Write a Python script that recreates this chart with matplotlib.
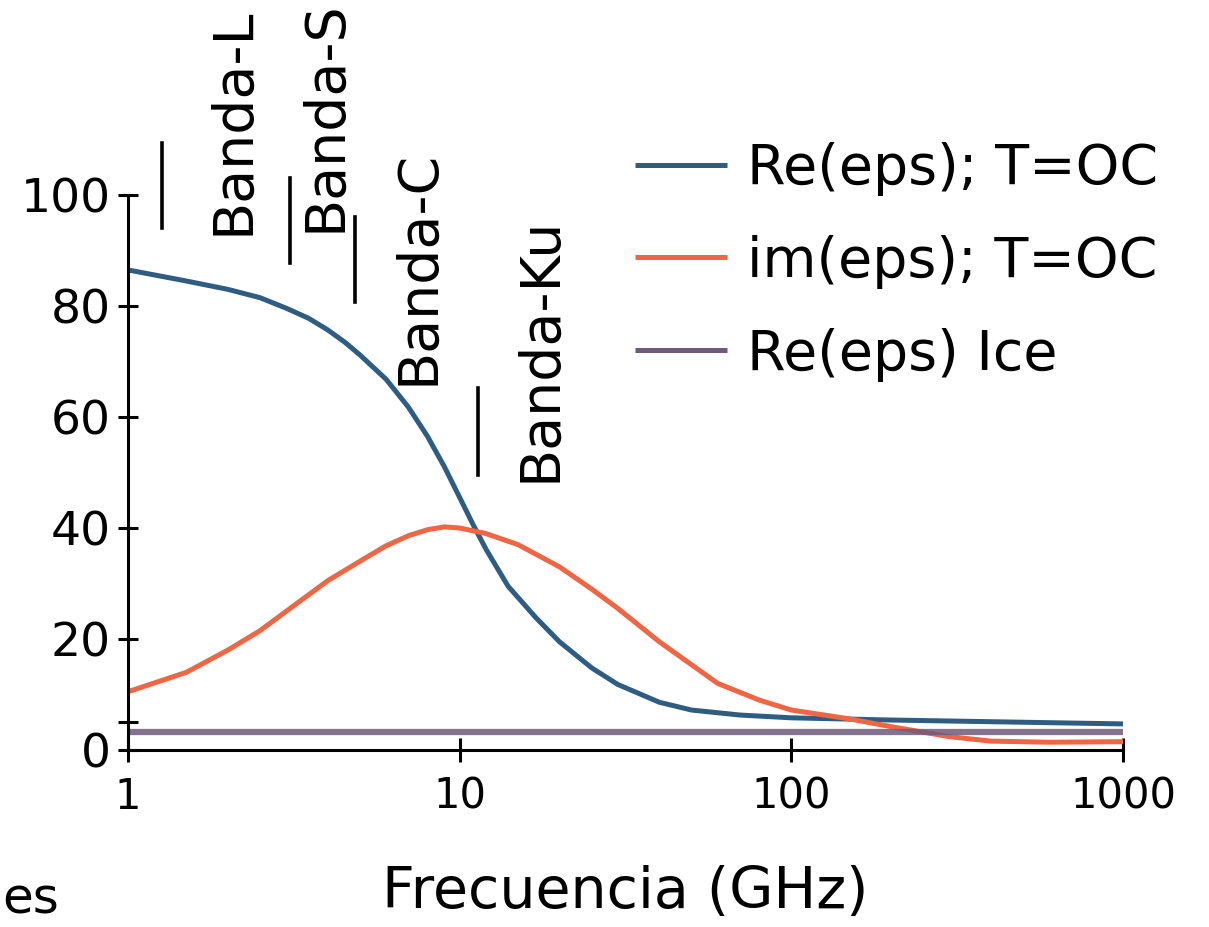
import matplotlib
matplotlib.use("Agg")
import numpy as np
import matplotlib.pyplot as plt

# frequency (GHz) and permittivity values
freq_re = [1, 1.5, 2, 2.5, 3, 3.5, 4, 4.5, 5, 6, 7, 8, 9, 10, 11, 12, 14, 17, 20, 25, 30, 40, 50, 70, 100, 200, 500, 1000]
re_water = [86.5, 84.5, 83, 81.5, 79.6, 77.8, 75.7, 73.5, 71.2, 66.8, 61.8, 56.5, 51, 45.5, 40.5, 36.2, 29.5, 23.8, 19.5, 14.8, 11.8, 8.6, 7.2, 6.3, 5.8, 5.4, 5.0, 4.7]

freq_im = [1, 1.5, 2, 2.5, 3, 4, 5, 6, 7, 8, 9, 10, 12, 15, 20, 25, 30, 40, 60, 80, 100, 150, 200, 300, 400, 600, 1000]
im_water = [10.5, 14, 18, 21.5, 25, 30.5, 34, 36.8, 38.6, 39.7, 40.2, 40, 39, 37, 33, 29, 25.5, 19.5, 12, 9, 7.2, 5.6, 4.2, 2.4, 1.6, 1.4, 1.5]

freq_ice = [1, 1000]
re_ice = [3.2, 3.2]

series_labels = ["Re(eps); T=OC", "im(eps); T=OC", "Re(eps) Ice"]
series_colors = ["#2f5d82", "#ee6644", "#6f5a7a"]

bands = ["Banda-L", "Banda-S", "Banda-C", "Banda-Ku"]
band_freq = [1.27, 3.08, 4.84, 11.36]
band_y0 = [94, 87.7, 80.7, 49.5]
band_y1 = [109.4, 103, 96, 65.2]
band_text_x = [2.07, 3.93, 7.49, 17.46]
band_text_y = [92.8, 93.3, 65.8, 48.3]

yticks = [0, 5, 20, 40, 60, 80, 100]
ytick_labels = ["0", "", "20", "40", "60", "80", "100"]
xticks = [1, 10, 100, 1000]
xtick_labels = ["1", "10", "100", "1000"]

fig = plt.figure(figsize=(12.09, 9.27), dpi=100)
ax = fig.add_axes([128 / 1209, 1 - 750 / 927, (1123 - 128) / 1209, (750 - 195) / 927])

ax.plot(freq_re, re_water, color=series_colors[0], lw=3.6, label=series_labels[0], solid_capstyle="butt")
ax.plot(freq_im, im_water, color=series_colors[1], lw=3.6, label=series_labels[1], solid_capstyle="butt")
ax.plot(freq_ice, re_ice, color=series_colors[2], lw=4.5, alpha=0.85, label=series_labels[2], solid_capstyle="butt")

ax.set_xscale("log")
ax.set_xlim(1, 1000)
ax.set_ylim(0, 100)

for s in ["top", "right"]:
    ax.spines[s].set_visible(False)
for s in ["left", "bottom"]:
    ax.spines[s].set_linewidth(2.2)

ax.set_yticks(yticks)
ax.set_yticklabels(ytick_labels, fontsize=34)
ax.set_xticks(xticks)
ax.set_xticklabels(xtick_labels, fontsize=30)
ax.xaxis.set_minor_locator(matplotlib.ticker.NullLocator())
ax.tick_params(axis="y", direction="inout", length=15, width=2.2, pad=5)
ax.tick_params(axis="x", direction="inout", length=17, width=2.2, pad=10)

# band markers
for name, f, y0, y1, tx, ty in zip(bands, band_freq, band_y0, band_y1, band_text_x, band_text_y):
    ax.plot([f, f], [y0, y1], color="black", lw=2.6, clip_on=False)
    ax.text(tx, ty, name, rotation=90, ha="center", va="bottom", fontsize=40, clip_on=False)

ax.set_xlabel("Frecuencia (GHz)", fontsize=41, labelpad=34)
fig.text(2 / 1209, 1 - 900 / 927, "es", ha="left", va="center", fontsize=36)

leg = ax.legend(loc="upper left", bbox_to_anchor=(585 / 1209, 1 - 92 / 927), bbox_transform=fig.transFigure,
                frameon=False, fontsize=40, handlelength=1.65, handletextpad=0.36, labelspacing=0.7)
for line in leg.get_lines():
    line.set_linewidth(3.6)
    line.set_alpha(1)

fig.savefig("out.png", dpi=100)
